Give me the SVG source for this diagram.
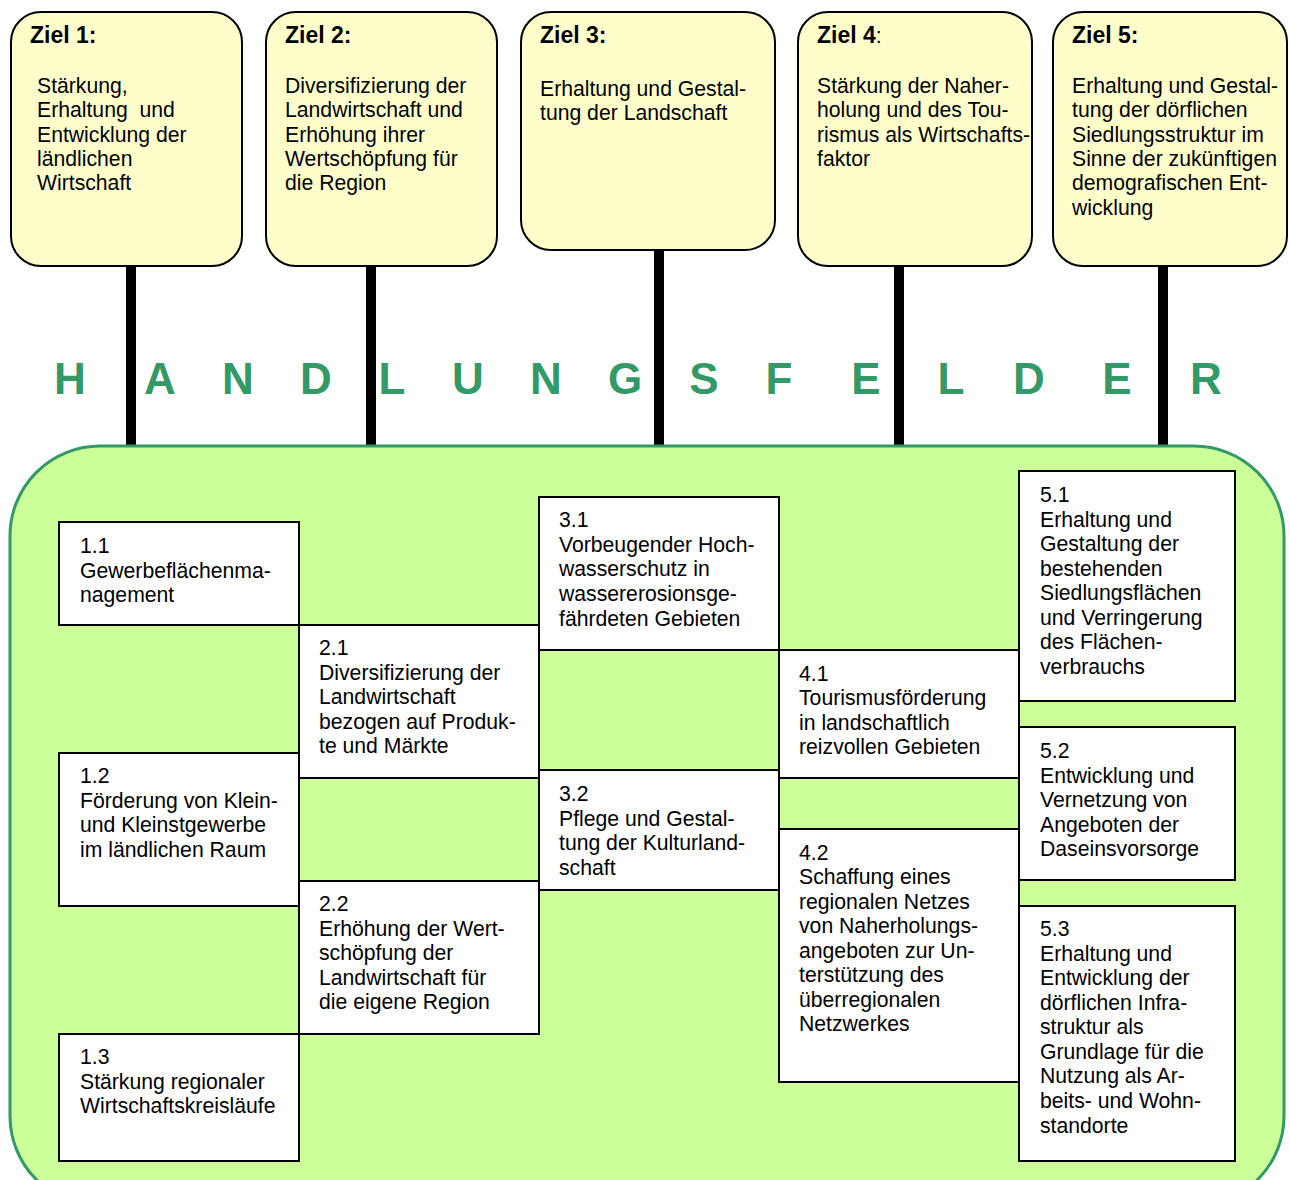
<svg xmlns="http://www.w3.org/2000/svg" width="1290" height="1180" viewBox="0 0 1290 1180">
<style>
text{font-family:"Liberation Sans",Arial,sans-serif;font-size:21.2px;fill:#000;white-space:pre}
.h{font-weight:bold;font-size:23px}
.ziel{fill:#ffffcc;stroke:#000;stroke-width:2}
.box{fill:#fff;stroke:#000;stroke-width:2}
.bar{fill:#000}
.big{font-size:44px;font-weight:bold;fill:#339966;text-anchor:middle}
</style>
<rect width="1290" height="1180" fill="#fff"/>
<g id="connectors">
<rect class="bar" x="126" y="266" width="10" height="182"/>
<rect class="bar" x="366" y="266" width="10" height="182"/>
<rect class="bar" x="654" y="250" width="10" height="198"/>
<rect class="bar" x="894" y="266" width="10" height="182"/>
<rect class="bar" x="1158" y="266" width="10" height="182"/>
</g>
<g id="title">
<text class="big" x="70" y="394">H</text>
<text class="big" x="160" y="394">A</text>
<text class="big" x="238" y="394">N</text>
<text class="big" x="316" y="394">D</text>
<text class="big" x="392" y="394">L</text>
<text class="big" x="468" y="394">U</text>
<text class="big" x="546" y="394">N</text>
<text class="big" x="625" y="394">G</text>
<text class="big" x="704" y="394">S</text>
<text class="big" x="779" y="394">F</text>
<text class="big" x="866" y="394">E</text>
<text class="big" x="951" y="394">L</text>
<text class="big" x="1029" y="394">D</text>
<text class="big" x="1117" y="394">E</text>
<text class="big" x="1206" y="394">R</text>
</g>
<g id="ziel1">
<rect class="ziel" x="11" y="12" width="231" height="254" rx="30"/>
<text class="h" x="30" y="43">Ziel 1:</text>
<text x="37" y="93">Stärkung,</text>
<text x="37" y="117">Erhaltung  und</text>
<text x="37" y="142">Entwicklung der</text>
<text x="37" y="166">ländlichen</text>
<text x="37" y="190">Wirtschaft</text>
</g>
<g id="ziel2">
<rect class="ziel" x="266" y="12" width="231" height="254" rx="30"/>
<text class="h" x="285" y="43">Ziel 2:</text>
<text x="285" y="93">Diversifizierung der</text>
<text x="285" y="117">Landwirtschaft und</text>
<text x="285" y="142">Erhöhung ihrer</text>
<text x="285" y="166">Wertschöpfung für</text>
<text x="285" y="190">die Region</text>
</g>
<g id="ziel3">
<rect class="ziel" x="521" y="12" width="254" height="238" rx="30"/>
<text class="h" x="540" y="43">Ziel 3:</text>
<text x="540" y="96">Erhaltung und Gestal-</text>
<text x="540" y="120">tung der Landschaft</text>
</g>
<g id="ziel4">
<rect class="ziel" x="798" y="12" width="234" height="254" rx="30"/>
<text x="817" y="43"><tspan class="h">Ziel 4</tspan>:</text>
<text x="817" y="93">Stärkung der Naher-</text>
<text x="817" y="117">holung und des Tou-</text>
<text x="817" y="142">rismus als Wirtschafts-</text>
<text x="817" y="166">faktor</text>
</g>
<g id="ziel5">
<rect class="ziel" x="1053" y="12" width="234" height="254" rx="30"/>
<text class="h" x="1072" y="43">Ziel 5:</text>
<text x="1072" y="93">Erhaltung und Gestal-</text>
<text x="1072" y="117">tung der dörflichen</text>
<text x="1072" y="142">Siedlungsstruktur im</text>
<text x="1072" y="166">Sinne der zukünftigen</text>
<text x="1072" y="190">demografischen Ent-</text>
<text x="1072" y="215">wicklung</text>
</g>
<g id="handlungsfelder">
<rect x="10" y="446" width="1274" height="760" rx="90" fill="#ccff99" stroke="#339966" stroke-width="3"/>
</g>
<g id="hf1-1">
<rect class="box" x="59" y="522" width="240" height="103"/>
<text x="80" y="553">1.1</text>
<text x="80" y="578">Gewerbeflächenma-</text>
<text x="80" y="602">nagement</text>
</g>
<g id="hf1-2">
<rect class="box" x="59" y="753" width="240" height="153"/>
<text x="80" y="783">1.2</text>
<text x="80" y="808">Förderung von Klein-</text>
<text x="80" y="832">und Kleinstgewerbe</text>
<text x="80" y="857">im ländlichen Raum</text>
</g>
<g id="hf1-3">
<rect class="box" x="59" y="1034" width="240" height="127"/>
<text x="80" y="1064">1.3</text>
<text x="80" y="1089">Stärkung regionaler</text>
<text x="80" y="1113">Wirtschaftskreisläufe</text>
</g>
<g id="hf2-1">
<rect class="box" x="299" y="625" width="240" height="153"/>
<text x="319" y="655">2.1</text>
<text x="319" y="680">Diversifizierung der</text>
<text x="319" y="704">Landwirtschaft</text>
<text x="319" y="729">bezogen auf Produk-</text>
<text x="319" y="753">te und Märkte</text>
</g>
<g id="hf2-2">
<rect class="box" x="299" y="881" width="240" height="153"/>
<text x="319" y="911">2.2</text>
<text x="319" y="936">Erhöhung der Wert-</text>
<text x="319" y="960">schöpfung der</text>
<text x="319" y="985">Landwirtschaft für</text>
<text x="319" y="1009">die eigene Region</text>
</g>
<g id="hf3-1">
<rect class="box" x="539" y="497" width="240" height="153"/>
<text x="559" y="527">3.1</text>
<text x="559" y="552">Vorbeugender Hoch-</text>
<text x="559" y="576">wasserschutz in</text>
<text x="559" y="601">wassererosionsge-</text>
<text x="559" y="626">fährdeten Gebieten</text>
</g>
<g id="hf3-2">
<rect class="box" x="539" y="770" width="240" height="120"/>
<text x="559" y="801">3.2</text>
<text x="559" y="826">Pflege und Gestal-</text>
<text x="559" y="850">tung der Kulturland-</text>
<text x="559" y="875">schaft</text>
</g>
<g id="hf4-1">
<rect class="box" x="779" y="650" width="240" height="128"/>
<text x="799" y="681">4.1</text>
<text x="799" y="705">Tourismusförderung</text>
<text x="799" y="730">in landschaftlich</text>
<text x="799" y="754">reizvollen Gebieten</text>
</g>
<g id="hf4-2">
<rect class="box" x="779" y="829" width="240" height="253"/>
<text x="799" y="860">4.2</text>
<text x="799" y="884">Schaffung eines</text>
<text x="799" y="909">regionalen Netzes</text>
<text x="799" y="933">von Naherholungs-</text>
<text x="799" y="958">angeboten zur Un-</text>
<text x="799" y="982">terstützung des</text>
<text x="799" y="1007">überregionalen</text>
<text x="799" y="1031">Netzwerkes</text>
</g>
<g id="hf5-1">
<rect class="box" x="1019" y="471" width="216" height="230"/>
<text x="1040" y="502">5.1</text>
<text x="1040" y="527">Erhaltung und</text>
<text x="1040" y="551">Gestaltung der</text>
<text x="1040" y="576">bestehenden</text>
<text x="1040" y="600">Siedlungsflächen</text>
<text x="1040" y="625">und Verringerung</text>
<text x="1040" y="649">des Flächen-</text>
<text x="1040" y="674">verbrauchs</text>
</g>
<g id="hf5-2">
<rect class="box" x="1019" y="727" width="216" height="153"/>
<text x="1040" y="758">5.2</text>
<text x="1040" y="783">Entwicklung und</text>
<text x="1040" y="807">Vernetzung von</text>
<text x="1040" y="832">Angeboten der</text>
<text x="1040" y="856">Daseinsvorsorge</text>
</g>
<g id="hf5-3">
<rect class="box" x="1019" y="906" width="216" height="255"/>
<text x="1040" y="936">5.3</text>
<text x="1040" y="961">Erhaltung und</text>
<text x="1040" y="985">Entwicklung der</text>
<text x="1040" y="1010">dörflichen Infra-</text>
<text x="1040" y="1034">struktur als</text>
<text x="1040" y="1059">Grundlage für die</text>
<text x="1040" y="1083">Nutzung als Ar-</text>
<text x="1040" y="1108">beits- und Wohn-</text>
<text x="1040" y="1133">standorte</text>
</g>
</svg>
